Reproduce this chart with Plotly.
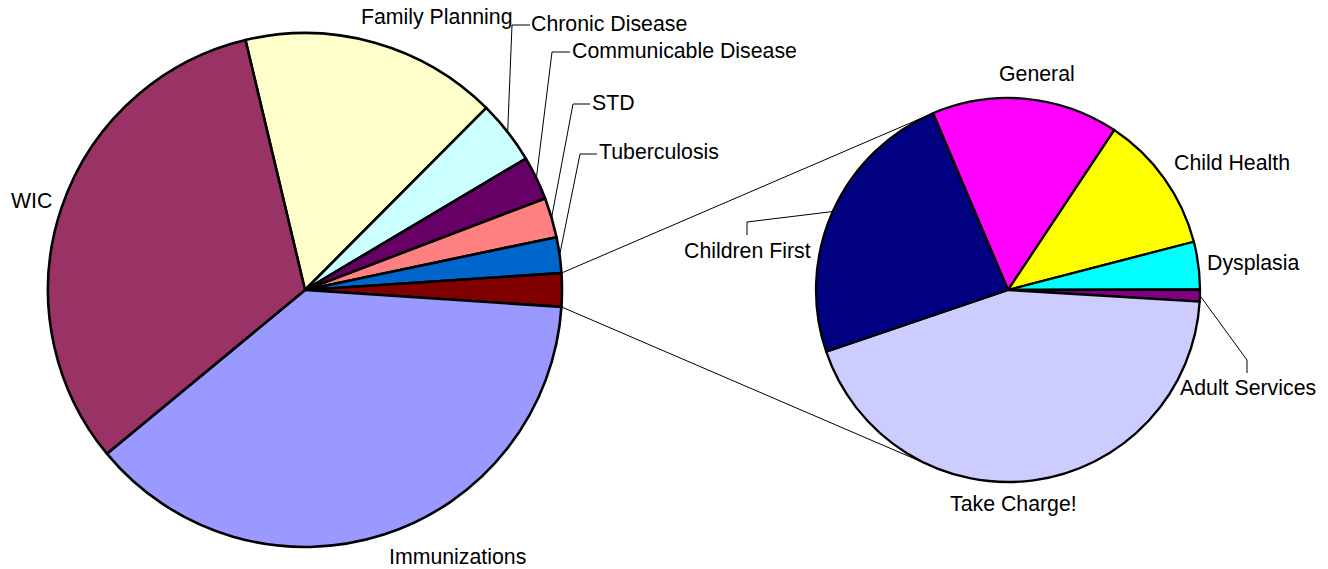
import math
import plotly.graph_objects as go

# ---------------- data ----------------
main_labels = ["Family Planning", "Chronic Disease", "Communicable Disease", "STD",
               "Tuberculosis", "Other", "Immunizations", "WIC"]
main_colors = ["#FFFFCC", "#CCFFFF", "#660066", "#FF8080",
               "#0066CC", "#800000", "#9999FF", "#993366"]

sec_labels = ["General", "Child Health", "Dysplasia", "Adult Services",
              "Take Charge!", "Children First"]
sec_values = [0.33, 0.244, 0.084, 0.021, 0.92, 0.5]
sec_colors = ["#FF00FF", "#FFFF00", "#00FFFF", "#800080", "#CCCCFF", "#000080"]

other_value = sum(sec_values)
main_values = [16.2, 4.0, 2.75, 2.5, 2.25, other_value, 38.0, 32.3]

# ---------------- layout constants (pixels) ----------------
W, H = 1328, 569
MAIN_C, MAIN_R = (305, 290), 257
SEC_C, SEC_R = (1008, 290), 192
SEC_ROT = -23.0
FONT = dict(family="Liberation Sans, Arial, sans-serif", size=21.3, color="black")

OTHER_IDX = main_labels.index("Other")
main_total = sum(main_values)
cum_before = sum(main_values[:OTHER_IDX])
MAIN_ROT = 90 - 360 * (cum_before + other_value / 2) / main_total


def px(x):
    return x / W


def py(y):
    return 1 - y / H


def pie_point(center, r, angle_cw):
    a = math.radians(angle_cw)
    return center[0] + r * math.sin(a), center[1] - r * math.cos(a)


def slice_angles(values, rot):
    tot = sum(values)
    out, cum = [], 0.0
    for v in values:
        a0 = rot + 360 * cum / tot
        cum += v
        a1 = rot + 360 * cum / tot
        out.append((a0, a1))
    return out


main_ang = slice_angles(main_values, MAIN_ROT)
sec_ang = slice_angles(sec_values, SEC_ROT)

fig = go.Figure()
fig.add_trace(go.Pie(
    labels=main_labels, values=main_values, sort=False, direction="clockwise",
    rotation=MAIN_ROT, textinfo="none", hoverinfo="label+percent",
    marker=dict(colors=main_colors, line=dict(color="black", width=2.6)),
    domain=dict(x=[px(MAIN_C[0] - MAIN_R), px(MAIN_C[0] + MAIN_R)],
                y=[py(MAIN_C[1] + MAIN_R), py(MAIN_C[1] - MAIN_R)]),
    showlegend=False,
))
fig.add_trace(go.Pie(
    labels=sec_labels, values=sec_values, sort=False, direction="clockwise",
    rotation=SEC_ROT, textinfo="none", hoverinfo="label+percent",
    marker=dict(colors=sec_colors, line=dict(color="black", width=2.3)),
    domain=dict(x=[px(SEC_C[0] - SEC_R), px(SEC_C[0] + SEC_R)],
                y=[py(SEC_C[1] + SEC_R), py(SEC_C[1] - SEC_R)]),
    showlegend=False,
))

shapes = []


def seg(p, q, w=1):
    shapes.append(dict(type="line", xref="paper", yref="paper",
                       x0=px(p[0]), y0=py(p[1]), x1=px(q[0]), y1=py(q[1]),
                       line=dict(color="black", width=w)))


# connector lines between the "Other" slice and the secondary pie
o0, o1 = main_ang[OTHER_IDX]
seg(pie_point(MAIN_C, MAIN_R, o0), pie_point(SEC_C, SEC_R, SEC_ROT))
seg(pie_point(MAIN_C, MAIN_R, o1), pie_point(SEC_C, SEC_R, 180 - SEC_ROT))

# labels (pixel centers)
label_pos = {
    "Family Planning": (437, 17), "Chronic Disease": (609, 24.5),
    "Communicable Disease": (684, 51.5), "STD": (613, 103),
    "Tuberculosis": (659, 152), "WIC": (31, 201), "Immunizations": (457, 557),
    "General": (1037, 74), "Child Health": (1232, 162.5), "Dysplasia": (1253, 262.5),
    "Adult Services": (1248, 388), "Take Charge!": (1014, 503.5),
    "Children First": (747, 251.5),
}
# leader line elbows (from label side toward slice)
leaders = {
    "Chronic Disease": [(530, 25), (512, 25)],
    "Communicable Disease": [(570, 52), (552, 52)],
    "STD": [(590, 104), (573, 104)],
    "Tuberculosis": [(597, 154), (580, 154)],
    "Children First": [(747, 235), (747, 222)],
    "Adult Services": [(1247, 373), (1247, 360)],
}

annotations = []
for lab, (x, y) in label_pos.items():
    annotations.append(dict(text=lab, x=px(x), y=py(y), xref="paper", yref="paper",
                            xanchor="center", yanchor="middle", showarrow=False, font=FONT))

for lab, pts in leaders.items():
    if lab in main_labels:
        i = main_labels.index(lab)
        a0, a1 = main_ang[i]
        tip = pie_point(MAIN_C, MAIN_R, (a0 + a1) / 2)
    else:
        i = sec_labels.index(lab)
        a0, a1 = sec_ang[i]
        tip = pie_point(SEC_C, SEC_R, (a0 + a1) / 2)
    chain = pts + [tip]
    for p, q in zip(chain[:-1], chain[1:]):
        seg(p, q)

fig.update_layout(
    width=W, height=H, margin=dict(l=0, r=0, t=0, b=0),
    paper_bgcolor="white", plot_bgcolor="white", showlegend=False,
    shapes=shapes, annotations=annotations,
)
fig.write_html("out.html", config={"displayModeBar": False},
               post_script="document.body.style.margin='0';document.body.style.overflow='hidden';")
